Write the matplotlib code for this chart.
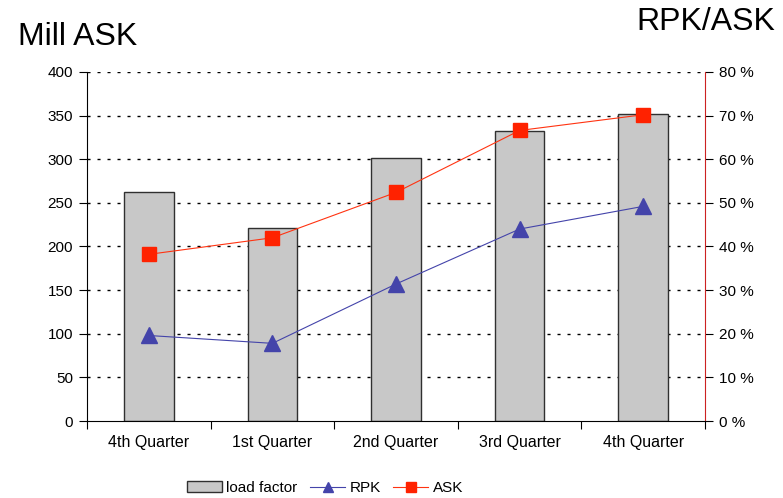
import matplotlib.pyplot as plt
import numpy as np

plt.rcParams['font.family'] = ['Liberation Sans', 'DejaVu Sans']

quarters = ['4th Quarter', '1st Quarter', '2nd Quarter', '3rd Quarter', '4th Quarter']
load_factor = [52.4, 44.2, 60.2, 66.4, 70.4]   # %
rpk = [98, 89, 157, 220, 246]                   # mill
ask = [191, 210, 262, 333, 351]                 # mill

x = np.arange(len(quarters))

fig = plt.figure(figsize=(7.83, 4.98), dpi=100)
ax = fig.add_axes([87 / 783, 77 / 498, 618 / 783, 349 / 498])
ax2 = ax.twinx()

# dashed grid behind the bars
for v in range(10, 81, 10):
    ax2.axhline(v, color='black', lw=1.0, ls=(0, (2.2, 5.0)), zorder=0)

# bars on the percent axis
ax2.bar(x, load_factor, width=0.4, color='#c8c8c8', edgecolor='#303030', linewidth=1.0,
        label='load factor', zorder=1)
ax2.set_ylim(0, 80)
ax2.set_yticks(range(0, 81, 10))
ax2.set_yticklabels([f'{v} %' for v in range(0, 81, 10)])

# lines on the left axis, drawn above the bars
ax.set_zorder(ax2.get_zorder() + 1)
ax.patch.set_visible(False)
ax.plot(x, rpk, color='#4444aa', lw=0.8, marker='^', ms=12, label='RPK')
ax.plot(x, ask, color='#ff3311', lw=0.8, marker='s', ms=10, mec='#ff2200', mfc='#ff2200',
        label='ASK')
ax.set_ylim(0, 400)
ax.set_yticks(range(0, 401, 50))
ax.set_xlim(-0.5, len(x) - 0.5)

ax.set_xticks(np.arange(-0.5, len(x) + 0.5, 1))
ax.set_xticklabels([])
ax.set_xticks(x, minor=True)
ax.set_xticklabels(quarters, minor=True)
ax.tick_params(axis='x', which='minor', length=0, pad=10, labelsize=11.5)
ax.tick_params(axis='x', which='major', length=6, direction='out')
ax.tick_params(axis='y', labelsize=11, length=6, pad=4)
ax2.tick_params(axis='y', labelsize=11, length=6, pad=4)

ax.spines['top'].set_visible(False)
ax2.spines['top'].set_visible(False)
ax.spines['right'].set_visible(False)
ax2.spines['left'].set_visible(False)
ax2.spines['bottom'].set_visible(False)
ax2.spines['right'].set_color('#cc2222')
ax2.spines['right'].set_linewidth(0.8)

fig.text(18 / 783, 1 - 37 / 498, 'Mill ASK', fontsize=23, va='center', ha='left')
fig.text(775 / 783, 1 - 22 / 498, 'RPK/ASK', fontsize=23, va='center', ha='right')

h1, l1 = ax2.get_legend_handles_labels()
h2, l2 = ax.get_legend_handles_labels()
fig.legend(h1 + h2, l1 + l2, loc='center', bbox_to_anchor=(325 / 783, 1 - 488 / 498),
           ncol=3, frameon=False, fontsize=11, handlelength=2.3, columnspacing=0.8,
           handletextpad=0.3, markerscale=0.65)

fig.savefig('out.png', dpi=100)
